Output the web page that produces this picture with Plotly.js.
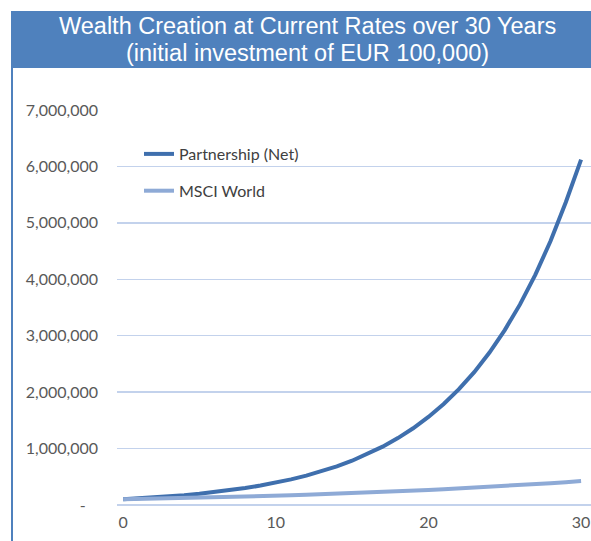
<!DOCTYPE html>
<html>
<head>
<meta charset="utf-8">
<script src="https://cdn.plot.ly/plotly-3.0.1.min.js"></script>
<style>
html,body{margin:0;padding:0;background:#fff;}
#chart{width:591px;height:541px;}
</style>
</head>
<body>
<div id="chart"></div>
<script>
const years = [0,1,2,3,4,5,6,7,8,9,10,11,12,13,14,15,16,17,18,19,20,21,22,23,24,25,26,27,28,29,30];
const partnershipNet = [100000,115000,132000,151000,173000,199000,228000,262000,300000,345000,395000,454000,520000,597000,685000,785000,901000,1034000,1186000,1360000,1560000,1790000,2053000,2355000,2701000,3099000,3555000,4078000,4678000,5366000,6120000];
const msciWorld = [100000,105000,110000,116000,122000,128000,134000,141000,148000,155000,163000,171000,180000,189000,198000,208000,218000,229000,241000,253000,265000,279000,292000,306000,321000,336000,352000,369000,387000,405000,425000];
const seriesNames = ["Partnership (Net)", "MSCI World"];
const yTickVals = [0,1000000,2000000,3000000,4000000,5000000,6000000,7000000];
const yTickText = ["-\u00a0\u00a0\u00a0","1,000,000","2,000,000","3,000,000","4,000,000","5,000,000","6,000,000","7,000,000"];
const xTickVals = [0,10,20,30];
const titleLines = ["Wealth Creation at Current Rates over 30 Years", "(initial investment of EUR 100,000)"];

const W = 591, H = 541, L = 117, R = 0, T = 110, B = 36;
const plotH = H - T - B, plotW = W - L - R;
const px = x => (x - L) / plotW;
const py = y => (H - B - y) / plotH;

const traces = [
  {x: years, y: partnershipNet, name: seriesNames[0], type: 'scatter', mode: 'lines',
   line: {color: '#3f6fad', width: 4}, legendgroup: 'a'},
  {x: years, y: msciWorld, name: seriesNames[1], type: 'scatter', mode: 'lines',
   line: {color: '#8eaad6', width: 4}, legendgroup: 'b'}
];

const layout = {
  width: W, height: H,
  margin: {l: L, r: R, t: T, b: B, pad: 0},
  paper_bgcolor: '#ffffff', plot_bgcolor: '#ffffff',
  font: {family: 'Lato, "Liberation Sans", Arial, sans-serif', color: '#595959', size: 16},
  showlegend: true,
  legend: {x: px(139), y: py(137), xanchor: 'left', yanchor: 'top',
           bgcolor: 'rgba(0,0,0,0)', font: {size: 16, color: '#404040'},
           tracegroupgap: 13},
  xaxis: {range: [-0.4, 30.65], tickvals: xTickVals, showgrid: false, zeroline: false,
          showline: false, ticks: '', ticklabelstandoff: 6, ticklabeloverflow: 'allow', fixedrange: true},
  yaxis: {range: [0, 7000000], tickvals: yTickVals, ticktext: yTickText,
          showgrid: true, gridcolor: '#c3d2ec', gridwidth: 1.5,
          zeroline: true, zerolinecolor: '#c3d2ec', zerolinewidth: 1.5,
          showline: false, ticks: '', ticklabelstandoff: 18, fixedrange: true},
  shapes: [
    {type: 'rect', xref: 'paper', yref: 'paper', x0: px(11), x1: px(591), y0: py(68), y1: py(11),
     fillcolor: '#4f81bd', line: {width: 0}, layer: 'above'},
    {type: 'line', xref: 'paper', yref: 'paper', x0: px(12), x1: px(12), y0: py(68), y1: py(541),
     line: {color: '#4f81bd', width: 2}}
  ],
  annotations: [
    {text: titleLines[0], xref: 'paper', yref: 'paper', x: px(307), y: py(26), xanchor: 'center', yanchor: 'middle',
     showarrow: false, font: {family: '"Liberation Sans", Arial, sans-serif', size: 23.5, color: '#ffffff'}},
    {text: titleLines[1], xref: 'paper', yref: 'paper', x: px(307), y: py(53), xanchor: 'center', yanchor: 'middle',
     showarrow: false, font: {family: '"Liberation Sans", Arial, sans-serif', size: 23.5, color: '#ffffff'}}
  ]
};

Plotly.newPlot('chart', traces, layout, {displayModeBar: false, staticPlot: true});
</script>
</body>
</html>
